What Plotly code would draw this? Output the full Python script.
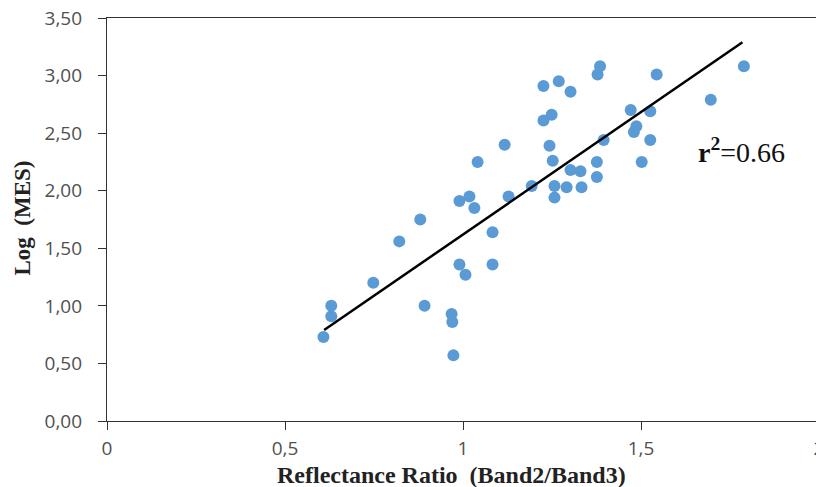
import plotly.graph_objects as go

ratio = [0.608, 0.630, 0.630, 0.748, 0.821, 0.880, 0.892, 0.968, 0.970, 0.973,
         0.990, 1.007, 0.990, 1.018, 1.032, 1.041, 1.083, 1.083, 1.117, 1.128,
         1.193, 1.226, 1.226, 1.249, 1.243, 1.252, 1.257, 1.257, 1.269, 1.302,
         1.291, 1.302, 1.330, 1.333, 1.385, 1.378, 1.376, 1.376, 1.395, 1.471,
         1.480, 1.487, 1.502, 1.526, 1.526, 1.544, 1.696, 1.789]
log_mes = [0.73, 1.00, 0.91, 1.20, 1.56, 1.75, 1.00, 0.93, 0.86, 0.57,
           1.36, 1.27, 1.91, 1.95, 1.85, 2.25, 1.64, 1.36, 2.40, 1.95,
           2.04, 2.91, 2.61, 2.66, 2.39, 2.26, 2.04, 1.94, 2.95, 2.86,
           2.03, 2.18, 2.17, 2.03, 3.08, 3.01, 2.25, 2.12, 2.44, 2.70,
           2.51, 2.56, 2.25, 2.69, 2.44, 3.01, 2.79, 3.08]

trend_x = [0.610, 1.785]
trend_y = [0.79, 3.29]

x_ticks = [0, 0.5, 1, 1.5, 2]
x_ticktext = ["0", "0,5", "1", "1,5", "2"]
y_ticks = [0, 0.5, 1, 1.5, 2, 2.5, 3, 3.5]
y_ticktext = ["0,00", "0,50", "1,00", "1,50", "2,00", "2,50", "3,00", "3,50"]

fig = go.Figure()
fig.add_trace(go.Scatter(x=ratio, y=log_mes, mode="markers",
                         marker=dict(size=12, color="#5B9BD5"), showlegend=False))
fig.add_trace(go.Scatter(x=trend_x, y=trend_y, mode="lines",
                         line=dict(color="black", width=2.5), showlegend=False))

axis_common = dict(showline=True, linecolor="#333333", linewidth=1.3, mirror=True,
                   ticks="outside", ticklen=8, tickcolor="#333333", tickwidth=1.3,
                   showgrid=False, zeroline=False, automargin=False,
                   ticklabeloverflow="allow",
                   tickfont=dict(family="Open Sans", size=19, color="#505050"))

# the page body adds an 8px offset, so the figure is sized to fit the window
fig.update_layout(
    width=816, height=479,
    margin=dict(l=99, r=5, t=10, b=66),
    paper_bgcolor="white", plot_bgcolor="white",
    xaxis=dict(range=[0, 2], tickvals=x_ticks, ticktext=x_ticktext,
               ticklabelstandoff=2, **axis_common),
    yaxis=dict(range=[0, 3.5], tickvals=y_ticks, ticktext=y_ticktext,
               ticklabelstandoff=12, **axis_common),
    annotations=[
        dict(text="<b>r<sup>2</sup></b>=0.66", x=1.781, y=2.35, xref="x", yref="y",
             xanchor="center", yanchor="middle", showarrow=False,
             font=dict(family="Liberation Serif", size=28, color="#111111")),
        dict(text="<b>Log  (MES)</b>", x=-0.118, y=0.505, xref="paper", yref="paper",
             xanchor="center", yanchor="middle", textangle=-90, showarrow=False,
             font=dict(family="Liberation Serif", size=23, color="#222222")),
        dict(text="<b>Reflectance Ratio  (Band2/Band3)</b>", x=0.484, y=-0.134,
             xref="paper", yref="paper", xanchor="center", yanchor="middle",
             showarrow=False,
             font=dict(family="Liberation Serif", size=24, color="#222222")),
    ],
)

fig.write_html("out.html")
